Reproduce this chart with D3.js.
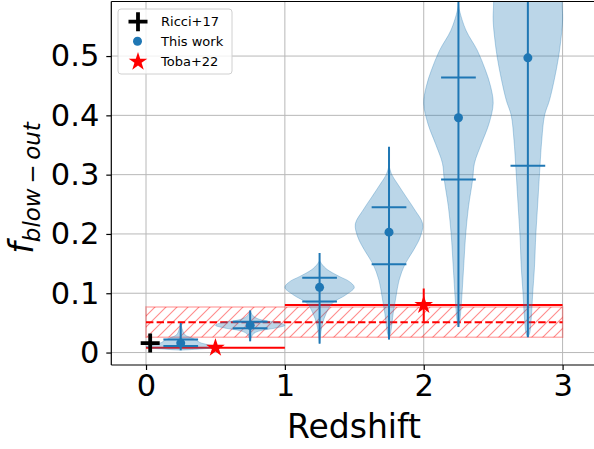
<!DOCTYPE html>
<html><head><meta charset="utf-8">
<script src="https://cdn.jsdelivr.net/npm/d3@7"></script>
<style>body{margin:0;background:#fff}svg{display:block;font-family:"DejaVu Sans",sans-serif}</style>
</head><body><svg id="c" width="594" height="449"></svg>
<script>
// ---------------- data ----------------
const xTicks = [0, 1, 2, 3];
const xTickLabels = ["0", "1", "2", "3"];
const yTicks = [0, 0.1, 0.2, 0.3, 0.4, 0.5];
const yTickLabels = ["0", "0.1", "0.2", "0.3", "0.4", "0.5"];

const violinPos   = [0.25, 0.75, 1.25, 1.75, 2.25, 2.75];
const violinMean  = [0.016, 0.046, 0.110, 0.203, 0.396, 0.497];
const violinMin   = [0.004, 0.019, 0.015, 0.022, 0.043, 0.026];
const violinMax   = [0.050, 0.071, 0.168, 0.347, 0.650, 0.750];
const violinQLow  = [0.011, 0.041, 0.086, 0.149, 0.292, 0.315];
const violinQHigh = [0.022, 0.052, 0.126, 0.245, 0.464, 0.660];
// density profiles: [f, relative half-width]
const violinProfiles = [
  [[0.004,0],[0.006,0.55],[0.008,0.9],[0.010,1.0],[0.013,0.8],[0.017,0.55],[0.021,0.45],[0.025,0.3],[0.030,0.12],[0.040,0.04],[0.050,0]],
  [[0.019,0],[0.025,0.03],[0.032,0.1],[0.037,0.3],[0.041,0.7],[0.046,1.0],[0.050,0.85],[0.053,0.5],[0.057,0.22],[0.062,0.08],[0.071,0]],
  [[0.015,0],[0.025,0.02],[0.035,0.04],[0.050,0.09],[0.066,0.19],[0.083,0.36],[0.097,0.75],[0.110,1.0],[0.120,0.85],[0.128,0.58],[0.140,0.22],[0.148,0.08],[0.155,0]],
  [[0.022,0],[0.038,0.06],[0.066,0.12],[0.094,0.2],[0.122,0.29],[0.149,0.46],[0.172,0.7],[0.195,0.9],[0.217,0.97],[0.240,0.75],[0.262,0.5],[0.285,0.24],[0.300,0.08],[0.315,0]],
  [[0.043,0],[0.054,0.04],[0.088,0.09],[0.144,0.15],[0.200,0.21],[0.246,0.29],[0.292,0.41],[0.319,0.46],[0.352,0.66],[0.386,0.88],[0.420,1.0],[0.448,0.93],[0.476,0.78],[0.510,0.54],[0.543,0.22],[0.577,0.03],[0.590,0]],
  [[0.026,0],[0.032,0.05],[0.060,0.1],[0.100,0.14],[0.144,0.19],[0.200,0.23],[0.257,0.29],[0.315,0.35],[0.358,0.4],[0.400,0.48],[0.425,0.62],[0.460,0.76],[0.497,0.88],[0.527,0.95],[0.560,1.0],[0.583,0.99],[0.620,0.95],[0.680,0.6],[0.750,0]]
];

const ricciZ = [0.03];
const ricciF = [0.016];

const tobaZ = [0.5, 2.0];
const tobaF = [0.008, 0.080];
const tobaXErr = [0.5, 1.0];
const tobaYErrLow = [0, 0.028];
const tobaYErrHigh = [0, 0.028];

const bandX = [0, 3];
const bandLow = [0.026, 0.026];
const bandHigh = [0.077, 0.077];
const bandMid = [0.051, 0.051];

const legendLabels = ["Ricci+17", "This work", "Toba+22"];

// ---------------- layout ----------------
const svg = d3.select("#c");
const L = 111.3, R = 597.3, T = 1.5, B = 365;
const x = d3.scaleLinear().domain([-0.25, 3.25]).range([L, R]);
const y = d3.scaleLinear().domain([-0.021, 0.592]).range([B, T]);
const blue = "#1f77b4", red = "#ff0000";

const defs = svg.append("defs");
defs.append("clipPath").attr("id", "clip").append("rect")
  .attr("x", L).attr("y", T).attr("width", R - L).attr("height", B - T);
const hs = 11;
const pat = defs.append("pattern").attr("id", "hatch").attr("patternUnits", "userSpaceOnUse")
  .attr("width", hs).attr("height", hs);
pat.append("path").attr("d", `M-1,1 l2,-2 M0,${hs} l${hs},${-hs} M${hs - 1},${hs + 1} l2,-2`)
  .attr("stroke", "rgba(255,0,0,0.45)").attr("stroke-width", 1.1);

// grid
const grid = svg.append("g");
grid.selectAll(".gx").data(xTicks).join("line")
  .attr("x1", d => x(d)).attr("x2", d => x(d)).attr("y1", T).attr("y2", B)
  .attr("stroke", "#b8b8b8").attr("stroke-width", 1);
grid.selectAll(".gy").data(yTicks).join("line")
  .attr("x1", L).attr("x2", R).attr("y1", d => y(d)).attr("y2", d => y(d))
  .attr("stroke", "#b8b8b8").attr("stroke-width", 1);

const plot = svg.append("g").attr("clip-path", "url(#clip)");

// hatched band
const bandData = bandX.map((v, i) => ({x: v, lo: bandLow[i], hi: bandHigh[i], mid: bandMid[i]}));
const bandArea = d3.area().x(d => x(d.x)).y0(d => y(d.lo)).y1(d => y(d.hi));
plot.append("path").datum(bandData).attr("d", bandArea)
  .attr("fill", "url(#hatch)").attr("stroke", "rgba(255,0,0,0.3)").attr("stroke-width", 1.5);
plot.append("path").datum(bandData)
  .attr("d", d3.line().x(d => x(d.x)).y(d => y(d.mid)))
  .attr("fill", "none").attr("stroke", red).attr("stroke-width", 2).attr("stroke-dasharray", "7.4,3.2");

// Toba error bars
tobaZ.forEach((z, i) => {
  plot.append("line").attr("x1", x(z - tobaXErr[i])).attr("x2", x(z + tobaXErr[i]))
    .attr("y1", y(tobaF[i])).attr("y2", y(tobaF[i])).attr("stroke", red).attr("stroke-width", 2);
  if (tobaYErrLow[i] + tobaYErrHigh[i] > 0) {
    plot.append("line").attr("x1", x(z)).attr("x2", x(z))
      .attr("y1", y(tobaF[i] - tobaYErrLow[i])).attr("y2", y(tobaF[i] + tobaYErrHigh[i]))
      .attr("stroke", red).attr("stroke-width", 2);
  }
});

// violins
const halfW = 0.25;
violinPos.forEach((p, i) => {
  const prof = violinProfiles[i];
  const area = d3.area().curve(d3.curveCatmullRom)
    .y(d => y(d[0])).x0(d => x(p - halfW * d[1])).x1(d => x(p + halfW * d[1]));
  plot.append("path").datum(prof).attr("d", area)
    .attr("fill", "rgba(31,119,180,0.3)").attr("stroke", "rgba(31,119,180,0.3)").attr("stroke-width", 1);
});
violinPos.forEach((p, i) => {
  plot.append("line").attr("x1", x(p)).attr("x2", x(p))
    .attr("y1", y(violinMin[i])).attr("y2", y(violinMax[i])).attr("stroke", blue).attr("stroke-width", 2);
  [violinQLow[i], violinQHigh[i]].forEach(q => {
    plot.append("line").attr("x1", x(p - halfW / 2)).attr("x2", x(p + halfW / 2))
      .attr("y1", y(q)).attr("y2", y(q)).attr("stroke", blue).attr("stroke-width", 2);
  });
  plot.append("circle").attr("cx", x(p)).attr("cy", y(violinMean[i])).attr("r", 4.5).attr("fill", blue);
});

// markers
function starPath(r) {
  const sz = r * r / 0.89081309152928522810;
  return d3.symbol().type(d3.symbolStar).size(sz)();
}
function plusPath(h) { return `M${-h},0H${h}M0,${-h}V${h}`; }

ricciZ.forEach((z, i) => {
  plot.append("path").attr("d", plusPath(9.5)).attr("transform", `translate(${x(z)},${y(ricciF[i])})`)
    .attr("stroke", "#000").attr("stroke-width", 3.8).attr("fill", "none");
});
tobaZ.forEach((z, i) => {
  plot.append("path").attr("d", starPath(9.8)).attr("transform", `translate(${x(z)},${y(tobaF[i])})`)
    .attr("fill", red);
});

// spines
svg.append("line").attr("x1", L).attr("x2", L).attr("y1", T).attr("y2", B).attr("stroke", "#000").attr("stroke-width", 1.2);
svg.append("line").attr("x1", L).attr("x2", R).attr("y1", B).attr("y2", B).attr("stroke", "#000").attr("stroke-width", 1.2);
svg.append("line").attr("x1", L).attr("x2", R).attr("y1", T).attr("y2", T).attr("stroke", "#000").attr("stroke-width", 1.2);

// axes
const xAxis = d3.axisBottom(x).tickValues(xTicks).tickFormat((d, i) => xTickLabels[i]).tickSize(5).tickPadding(4);
const gx = svg.append("g").attr("transform", `translate(0,${B})`).call(xAxis);
gx.select(".domain").remove();
gx.selectAll("line").attr("stroke", "#000").attr("stroke-width", 1.2);
gx.selectAll("text").attr("font-size", 30.5).attr("fill", "#000").attr("font-family", "DejaVu Sans");

const yAxis = d3.axisLeft(y).tickValues(yTicks).tickFormat((d, i) => yTickLabels[i]).tickSize(5).tickPadding(7);
const gy = svg.append("g").attr("transform", `translate(${L},0)`).call(yAxis);
gy.select(".domain").remove();
gy.selectAll("line").attr("stroke", "#000").attr("stroke-width", 1.2);
gy.selectAll("text").attr("font-size", 30.5).attr("fill", "#000").attr("font-family", "DejaVu Sans");

// axis labels
svg.append("text").attr("x", 354).attr("y", 438).attr("text-anchor", "middle")
  .attr("font-size", 33).attr("fill", "#000").text("Redshift");
const yl = svg.append("text").attr("transform", "translate(33,188) rotate(-90)")
  .attr("text-anchor", "middle").attr("fill", "#000");
yl.append("tspan").attr("font-size", 33).attr("font-style", "italic").text("f");
yl.append("tspan").attr("font-size", 23).attr("font-style", "italic").attr("dy", 7).text("blow\u2009\u2212\u2009out");

// legend
const lg = svg.append("g");
lg.append("rect").attr("x", 118).attr("y", 9).attr("width", 114).attr("height", 65).attr("rx", 3)
  .attr("fill", "rgba(255,255,255,0.8)").attr("stroke", "#d0d0d0").attr("stroke-width", 1);
const rowY = [21.7, 41.3, 61.7];
lg.append("path").attr("d", plusPath(9.5)).attr("transform", `translate(138,${rowY[0]})`)
  .attr("stroke", "#000").attr("stroke-width", 3.8).attr("fill", "none");
lg.append("circle").attr("cx", 137.5).attr("cy", rowY[1]).attr("r", 4.5).attr("fill", blue);
lg.append("path").attr("d", starPath(9.8)).attr("transform", `translate(138,${rowY[2]})`).attr("fill", red);
legendLabels.forEach((t, i) => {
  lg.append("text").attr("x", 161).attr("y", rowY[i] + 4.7).attr("font-size", 13).attr("fill", "#000").text(t);
});
</script></body></html>
